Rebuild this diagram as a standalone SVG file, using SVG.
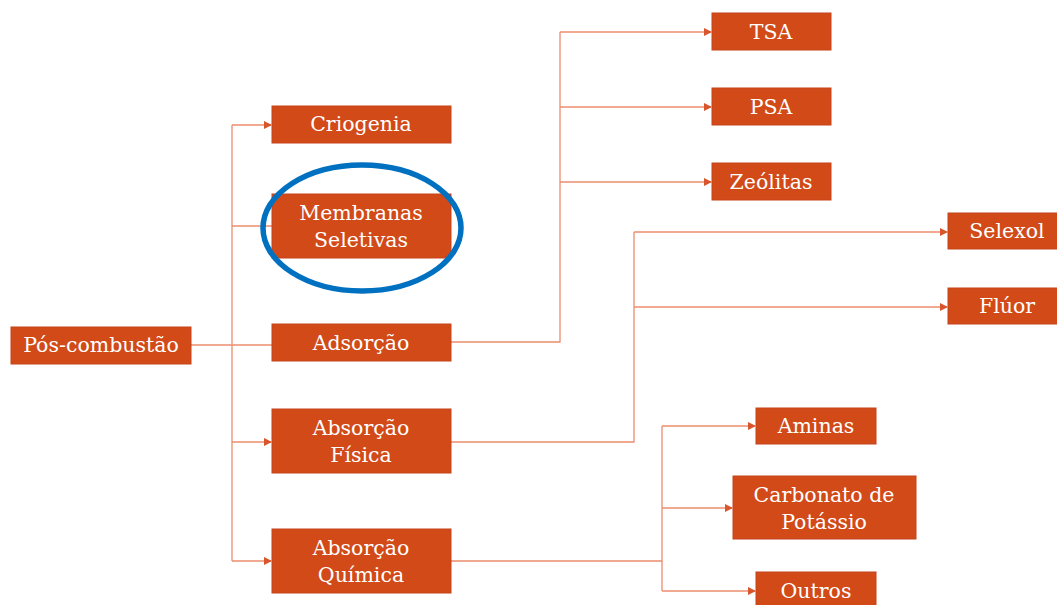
<svg xmlns="http://www.w3.org/2000/svg" width="1057" height="605" viewBox="0 0 1057 605">
<defs>
<marker id="ah" markerWidth="8" markerHeight="8" refX="7" refY="4" orient="auto" markerUnits="userSpaceOnUse">
<path d="M0,0 L8,4 L0,8 Z" fill="#D9552B"/>
</marker>
<style>
.box{fill:#D14A18;stroke:#C4441A;stroke-width:1}
.t{fill:#FFFFFF;font-family:"DejaVu Serif","Liberation Serif",serif;font-size:20.5px;text-anchor:middle;dominant-baseline:central}
.c{fill:none;stroke:#EC8D6E;stroke-width:1.3}
.a{marker-end:url(#ah)}
</style>
</defs>
<rect width="1057" height="605" fill="#FFFFFF"/>
<g id="connectors">
<path class="c" d="M191,345 H272"/>
<path class="c" d="M232,125 V561"/>
<path class="c a" d="M232,125 H271"/>
<path class="c" d="M232,226 H272"/>
<path class="c a" d="M232,442 H271"/>
<path class="c a" d="M232,561 H271"/>
<path class="c" d="M451,342 H560 V32"/>
<path class="c a" d="M560,32 H711"/>
<path class="c a" d="M560,107 H711"/>
<path class="c a" d="M560,182 H711"/>
<path class="c" d="M451,442 H634 V232"/>
<path class="c a" d="M634,232 H947"/>
<path class="c a" d="M634,307 H947"/>
<path class="c" d="M451,561 H662 V426"/>
<path class="c" d="M662,561 V591"/>
<path class="c a" d="M662,426 H755"/>
<path class="c a" d="M662,508 H732"/>
<path class="c a" d="M662,591 H755"/>
</g>
<g id="n-pos"><rect class="box" x="11" y="327" width="180" height="37"/><text class="t" x="101" y="345">Pós-combustão</text></g>
<g id="n-crio"><rect class="box" x="272" y="106" width="179" height="37"/><text class="t" x="361" y="124">Criogenia</text></g>
<g id="n-memb"><rect class="box" x="272" y="194" width="179" height="64"/><text class="t" x="361" y="213">Membranas</text><text class="t" x="361" y="240">Seletivas</text></g>
<g id="n-ads"><rect class="box" x="272" y="324" width="179" height="37"/><text class="t" x="361" y="343">Adsorção</text></g>
<g id="n-absf"><rect class="box" x="272" y="409" width="179" height="64"/><text class="t" x="361" y="428">Absorção</text><text class="t" x="361" y="455">Física</text></g>
<g id="n-absq"><rect class="box" x="272" y="529" width="179" height="64"/><text class="t" x="361" y="548">Absorção</text><text class="t" x="361" y="575">Química</text></g>
<g id="n-tsa"><rect class="box" x="712" y="13" width="119" height="37"/><text class="t" x="771" y="32">TSA</text></g>
<g id="n-psa"><rect class="box" x="712" y="88" width="119" height="37"/><text class="t" x="771" y="107">PSA</text></g>
<g id="n-zeo"><rect class="box" x="712" y="163" width="119" height="37"/><text class="t" x="771" y="182">Zeólitas</text></g>
<g id="n-selexol"><rect class="box" x="948" y="213" width="120" height="36"/><text class="t" x="1007" y="231">Selexol</text></g>
<g id="n-fluor"><rect class="box" x="948" y="288" width="120" height="36"/><text class="t" x="1007" y="306">Flúor</text></g>
<g id="n-aminas"><rect class="box" x="756" y="408" width="120" height="36"/><text class="t" x="816" y="426">Aminas</text></g>
<g id="n-carb"><rect class="box" x="733" y="476" width="183" height="63"/><text class="t" x="824" y="495">Carbonato de</text><text class="t" x="824" y="522">Potássio</text></g>
<g id="n-outros"><rect class="box" x="756" y="572" width="120" height="37"/><text class="t" x="816" y="591">Outros</text></g>
<ellipse id="highlight" cx="362" cy="228" rx="99" ry="63" fill="none" stroke="#0070C0" stroke-width="5.5"/>
</svg>
